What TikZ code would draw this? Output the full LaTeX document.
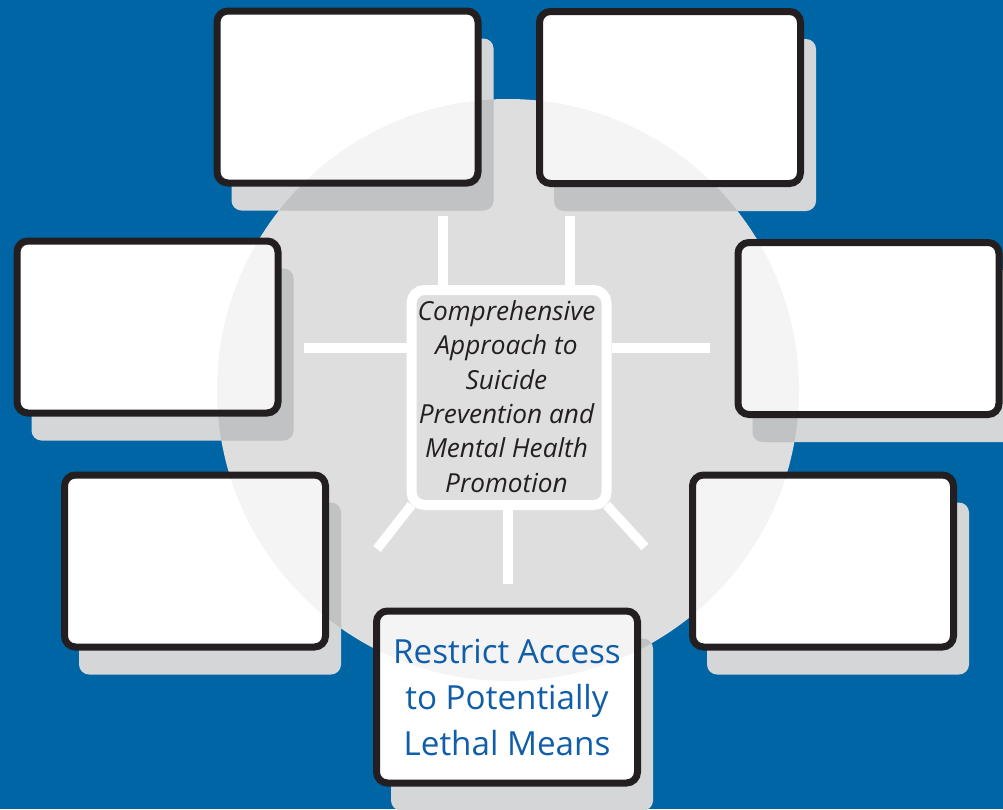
\documentclass[tikz,border=0pt]{standalone}
\usepackage{fontspec}
\setmainfont{Open Sans}
\usetikzlibrary{backgrounds,calc}
\definecolor{bgblue}{RGB}{0,101,164}
\definecolor{circgray}{RGB}{222,222,222}
\definecolor{shadowA}{RGB}{213,214,216}
\definecolor{shadowB}{RGB}{193,194,196}
\definecolor{boxtint}{RGB}{244,244,244}
\definecolor{cardborder}{RGB}{35,31,32}
\definecolor{textblue}{RGB}{16,94,170}
\definecolor{textdark}{RGB}{35,31,32}
\begin{document}
\begin{tikzpicture}[x=1pt,y=-1pt,
  card/.style={rectangle, rounded corners=11pt, minimum width=261pt, minimum height=172pt,
    inner sep=0pt, line width=7pt, draw=cardborder,
    preaction={fill=white, path picture={\fill[boxtint] (cc) circle[radius=291pt];}}},
  hub/.style={rectangle, rounded corners=13pt, minimum width=195pt, minimum height=215pt,
    inner sep=0pt, line width=10pt, draw=white, fill=circgray, align=center,
    text=textdark, font=\fontsize{26.2}{34.4}\selectfont\itshape},
  spoke/.style={draw=white, line width=9.5pt},
  shade/.style={rounded corners=10pt}]
\useasboundingbox (0,0) rectangle (1003,809);
\coordinate (cc) at (508,390);
% cards
\node[card] (tl) at (347.5,97) {};
\node[card] (tr) at (670,97.5) {};
\node[card] (lm) at (147.5,327) {};
\node[card] (rm) at (868.5,328.5) {};
\node[card] (bl) at (195,561) {};
\node[card] (br) at (823,561) {};
\node[card, align=center, text=textblue, font=\fontsize{33.2}{46}\selectfont] (bc) at (507,697)
  {Restrict Access\\to Potentially\\Lethal Means};
% hub
\node[hub] (c) at (509,397.5) {};
\node[align=center, text=textdark, font=\fontsize{26.2}{34.4}\selectfont\itshape, inner sep=0pt]
  (hubtext) at (506.5,396.5) {Comprehensive\\Approach to\\Suicide\\Prevention and\\Mental Health\\Promotion};
% spoke ends
\coordinate (s1) at (443,216);
\coordinate (s2) at (570,216);
\coordinate (s3) at (303.5,348);
\coordinate (s4) at (710,348);
\coordinate (s5) at (508,584);
\coordinate (s6) at (377,549);
\coordinate (s7) at (645,547);
\draw[spoke] (c.north -| s1) -- (s1);
\draw[spoke] (c.north -| s2) -- (s2);
\draw[spoke] (c.west |- s3) -- (s3);
\draw[spoke] (c.east |- s4) -- (s4);
\draw[spoke] (c.south -| s5) -- (s5);
\draw[spoke] ($(c.south west)+(5,-5)$) -- (s6);
\draw[spoke] ($(c.south east)+(-5,-5)$) -- (s7);
\begin{pgfonlayer}{background}
  \fill[bgblue] (0,0) rectangle (1003,809);
  \fill[circgray] (cc) circle[radius=291pt];
  \foreach \n in {tl,tr,lm,rm,bl,br,bc}
    \fill[shadowA, shade] ($(\n.north west)+(18,31)$) rectangle ($(\n.south east)+(12,24)$);
  \begin{scope}
    \clip (cc) circle[radius=291pt];
    \foreach \n in {tl,tr,lm,rm,bl,br,bc}
      \fill[shadowB, shade] ($(\n.north west)+(18,31)$) rectangle ($(\n.south east)+(12,24)$);
  \end{scope}
\end{pgfonlayer}
\end{tikzpicture}
\end{document}
